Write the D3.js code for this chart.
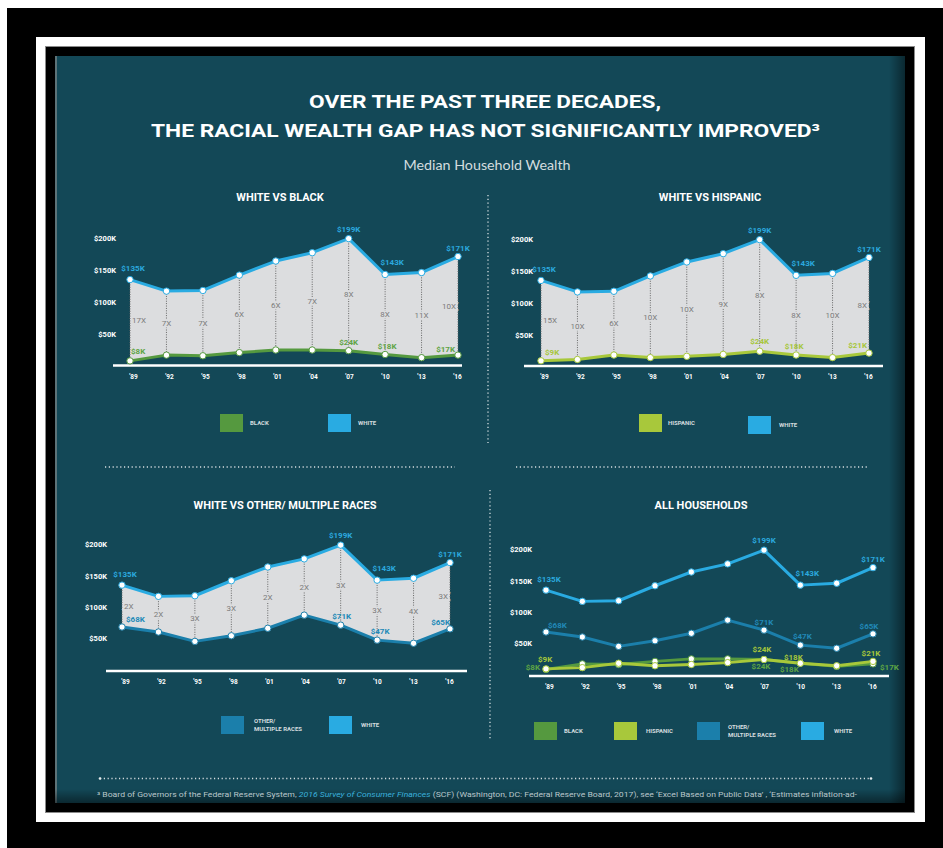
<!DOCTYPE html>
<html>
<head>
<meta charset="utf-8">
<script src="https://cdn.jsdelivr.net/npm/d3@7"></script>
<style>
  html, body { margin: 0; padding: 0; background: #000; }
  svg { display: block; }
</style>
</head>
<body>
<svg id="chart" width="943" height="848"></svg>
<script>
// Median household wealth, thousands of 2016 dollars (SCF survey years)
const years    = [1989, 1992, 1995, 1998, 2001, 2004, 2007, 2010, 2013, 2016];
const white    = [135, 117, 118, 142, 164, 177, 199, 143, 146, 171];
const black    = [8, 17, 16, 21, 25, 25, 24, 18, 13, 17];
const hispanic = [9, 11, 18, 14, 16, 19, 24, 18, 14, 21];
const other    = [68, 60, 45, 54, 66, 87, 71, 47, 42, 65];

// Years whose values are printed next to the points
const labelYears = [1989, 2007, 2010, 2016];
const yTicks = [50, 100, 150, 200];

// How many times larger white wealth is, per survey year
const blackGap    = ["17X", "7X", "7X", "6X", "6X", "7X", "8X", "8X", "11X", "10X"];
const hispanicGap = ["15X", "10X", "6X", "10X", "10X", "9X", "8X", "8X", "10X", "8X"];
const otherGap    = ["2X", "2X", "3X", "3X", "2X", "2X", "3X", "3X", "4X", "3X"];

const rows = years.map((year, i) => ({
  year, white: white[i], black: black[i], hispanic: hispanic[i], other: other[i]
}));

const FONT = "Roboto, 'Liberation Sans', Arial, sans-serif";
const TEAL = "#134857";
const AREA = "#dcdddf";
const series = {
  white:    { color: "#29abe2", text: "#2ba9df" },
  black:    { color: "#55993f", text: "#5ea444" },
  hispanic: { color: "#a8c83b", text: "#a6c63b" },
  other:    { color: "#1b7fab", text: "#2189b7" }
};

const svg = d3.select("#chart").attr("font-family", FONT);
const W = 943, H = 848;

// ---------- frame ----------
const defs = svg.append("defs");
defs.append("clipPath").attr("id", "panelClip")
  .append("rect").attr("x", 55).attr("y", 56).attr("width", 850).attr("height", 747);
const gr = defs.append("linearGradient").attr("id", "shadeR").attr("x1", 0).attr("x2", 1).attr("y1", 0).attr("y2", 0);
gr.append("stop").attr("offset", 0).attr("stop-color", "#000").attr("stop-opacity", 0);
gr.append("stop").attr("offset", 1).attr("stop-color", "#000").attr("stop-opacity", 0.45);
const gb = defs.append("linearGradient").attr("id", "shadeB").attr("x1", 0).attr("x2", 0).attr("y1", 0).attr("y2", 1);
gb.append("stop").attr("offset", 0).attr("stop-color", "#000").attr("stop-opacity", 0);
gb.append("stop").attr("offset", 1).attr("stop-color", "#000").attr("stop-opacity", 0.45);

svg.append("rect").attr("width", W).attr("height", H).attr("fill", "#000");
svg.append("rect").attr("x", 0).attr("y", 0).attr("width", W).attr("height", 8).attr("fill", "#fff");
svg.append("rect").attr("x", 0).attr("y", 0).attr("width", 7).attr("height", H).attr("fill", "#fff");
svg.append("rect").attr("x", 36).attr("y", 37).attr("width", 889).attr("height", 785).attr("fill", "#fff");
svg.append("rect").attr("x", 45.5).attr("y", 46.5).attr("width", 869).attr("height", 766)
  .attr("fill", "#000").attr("stroke", "#8a8a8a").attr("stroke-width", 1);
svg.append("rect").attr("x", 55).attr("y", 56).attr("width", 850).attr("height", 747).attr("fill", TEAL);
svg.append("rect").attr("x", 55).attr("y", 56).attr("width", 2).attr("height", 747).attr("fill", "#5d7378");
svg.append("rect").attr("x", 889).attr("y", 56).attr("width", 16).attr("height", 747).attr("fill", "url(#shadeR)");
svg.append("rect").attr("x", 55).attr("y", 789).attr("width", 850).attr("height", 14).attr("fill", "url(#shadeB)");

// ---------- headings ----------
svg.append("text").attr("x", 485).attr("y", 108).attr("text-anchor", "middle")
  .attr("fill", "#fff").attr("font-size", 18).attr("font-weight", 700)
  .attr("textLength", 352).attr("lengthAdjust", "spacingAndGlyphs")
  .text("OVER THE PAST THREE DECADES,");
svg.append("text").attr("x", 485.5).attr("y", 136.5).attr("text-anchor", "middle")
  .attr("fill", "#fff").attr("font-size", 18).attr("font-weight", 700)
  .attr("textLength", 669).attr("lengthAdjust", "spacingAndGlyphs")
  .text("THE RACIAL WEALTH GAP HAS NOT SIGNIFICANTLY IMPROVED\u00B3");
svg.append("text").attr("x", 487).attr("y", 169.5).attr("text-anchor", "middle")
  .attr("fill", "#d3dcdf").attr("font-size", 12.5).attr("font-weight", 400)
  .attr("font-family", "Lato, 'Open Sans', sans-serif")
  .attr("textLength", 167).attr("lengthAdjust", "spacingAndGlyphs")
  .text("Median Household Wealth");

// ---------- dotted separators ----------
function dotted(x1, y1, x2, y2, endDots) {
  svg.append("line").attr("x1", x1).attr("y1", y1).attr("x2", x2).attr("y2", y2)
    .attr("stroke", "#d5dde0").attr("stroke-width", 1.3).attr("stroke-dasharray", "1.2,2.6");
  if (endDots) {
    [[x1, y1], [x2, y2]].forEach(p => svg.append("circle").attr("cx", p[0]).attr("cy", p[1])
      .attr("r", 1.3).attr("fill", "#e6ecee"));
  }
}
dotted(488, 195, 488, 443);
dotted(490, 490, 490, 740);
dotted(105, 467, 455, 467);
dotted(516, 467, 869, 467);
dotted(100, 778.5, 871, 778.5, true);

// ---------- chart panels ----------
function drawChart(c) {
  const g = svg.append("g");
  const x = d3.scalePoint().domain(years).range(c.xRange);
  const y = d3.scaleLinear().domain([0, 200]).range(c.yRange);

  g.append("text").attr("x", c.titleX).attr("y", 201).attr("transform", `translate(0,${c.titleDy})`)
    .attr("text-anchor", "middle").attr("fill", "#fff")
    .attr("font-size", 11).attr("font-weight", 700).text(c.title);

  // value axis labels
  g.append("g").attr("transform", `translate(${c.yAxisX},0)`)
    .call(d3.axisLeft(y).tickValues(yTicks).tickSize(0).tickPadding(0).tickFormat(d => `$${d}K`))
    .call(a => a.select(".domain").remove())
    .attr("font-family", FONT).attr("font-size", 7.5).attr("font-weight", 700)
    .selectAll("text").attr("fill", "#fff");

  // baseline
  g.append("line").attr("x1", c.base[0]).attr("x2", c.base[1])
    .attr("y1", c.baseY).attr("y2", c.baseY).attr("stroke", "#fff").attr("stroke-width", 2.4);

  // year labels
  const xl = d3.scalePoint().domain(years).range([c.xRange[0] + 3, c.xRange[1] - 1]);
  g.append("g").attr("transform", `translate(0,${c.baseY})`)
    .call(d3.axisBottom(xl).tickSize(0).tickPadding(8.5).tickFormat(d => "'" + String(d).slice(2)))
    .call(a => a.select(".domain").remove())
    .attr("font-family", FONT).attr("font-size", 6.5).attr("font-weight", 700)
    .selectAll("text").attr("fill", "#fff");

  // gap band between two series
  if (c.band) {
    const [up, lo, gap] = c.band;
    g.append("path").datum(rows)
      .attr("d", d3.area().x(d => x(d.year)).y0(d => y(d[lo])).y1(d => y(d[up])))
      .attr("fill", AREA);
    g.selectAll(null).data(rows).join("line")
      .attr("x1", d => x(d.year)).attr("x2", d => x(d.year))
      .attr("y1", d => y(d[up])).attr("y2", d => y(d[lo]))
      .attr("stroke", "#666").attr("stroke-width", 1).attr("stroke-dasharray", "1,1.4");
    const last = rows.length - 1;
    g.selectAll(null).data(rows).join("text")
      .attr("x", (d, i) => x(d.year) + (i === 0 ? 2 : i === last ? -2 : 0))
      .attr("y", d => (y(d[up]) + y(d[lo])) / 2).attr("dy", "0.35em")
      .attr("text-anchor", (d, i) => i === 0 ? "start" : i === last ? "end" : "middle")
      .attr("font-size", 8).attr("fill", "#7b7b7b")
      .attr("stroke", AREA).attr("stroke-width", 3).attr("paint-order", "stroke")
      .text((d, i) => gap[i]);
  }

  // lines
  c.lines.forEach(key => {
    g.append("path").datum(rows)
      .attr("d", d3.line().x(d => x(d.year)).y(d => y(d[key])))
      .attr("fill", "none").attr("stroke", series[key].color)
      .attr("stroke-width", 3).attr("stroke-linejoin", "round");
  });
  // points
  c.lines.forEach(key => {
    g.selectAll(null).data(rows).join("circle")
      .attr("cx", d => x(d.year)).attr("cy", d => y(d[key])).attr("r", 3.2)
      .attr("fill", "#fff").attr("stroke", series[key].color).attr("stroke-width", 1);
  });

  // printed values
  c.labels.forEach(L => {
    labelYears.forEach((yr, j) => {
      const d = rows.find(r => r.year === yr);
      g.append("text")
        .attr("x", x(yr) + L.dx[j]).attr("y", y(d[L.key]) + L.dy[j]).attr("dy", "0.35em")
        .attr("text-anchor", L.anchor[j])
        .attr("font-size", 8).attr("font-weight", 700).attr("fill", series[L.key].text)
        .text(`$${d[L.key]}K`);
    });
  });

  // legend
  c.legend.forEach(item => {
    g.append("rect").attr("x", item.x).attr("y", item.y).attr("width", 23).attr("height", 18)
      .attr("fill", series[item.key].color);
    const cy = item.y + 9;
    const n = item.lines.length;
    item.lines.forEach((t, k) => {
      g.append("text").attr("x", item.x + 23 + item.gap)
        .attr("y", cy + (k - (n - 1) / 2) * 8.4).attr("dy", "0.35em")
        .attr("font-size", 6).attr("font-weight", 700).attr("fill", "#d3dcdf").text(t);
    });
  });
}

const upperLbl = { anchor: ["middle", "middle", "middle", "middle"], dx: [3, 0, 7, 0], dy: [-11, -9.5, -12, -8] };

drawChart({
  title: "WHITE VS BLACK", titleX: 280, titleDy: 0,
  xRange: [130, 458], yRange: [366, 238], yAxisX: 116,
  base: [113, 462], baseY: 365.5,
  band: ["white", "black", blackGap],
  lines: ["black", "white"],
  labels: [
    Object.assign({ key: "white" }, upperLbl),
    { key: "black", anchor: ["start", "middle", "middle", "end"], dx: [1, 0, 2, -3], dy: [-10, -8.6, -8, -6] }
  ],
  legend: [
    { key: "black", lines: ["BLACK"], x: 220, y: 414, gap: 7 },
    { key: "white", lines: ["WHITE"], x: 328, y: 414, gap: 7 }
  ]
});

drawChart({
  title: "WHITE VS HISPANIC", titleX: 710, titleDy: 0,
  xRange: [541, 869], yRange: [366.5, 239], yAxisX: 533,
  base: [524, 883], baseY: 366,
  band: ["white", "hispanic", hispanicGap],
  lines: ["hispanic", "white"],
  labels: [
    Object.assign({ key: "white" }, upperLbl),
    { key: "hispanic", anchor: ["start", "middle", "middle", "end"], dx: [4, 0, -2, -2], dy: [-9, -10, -9, -8] }
  ],
  legend: [
    { key: "hispanic", lines: ["HISPANIC"], x: 639, y: 414, gap: 6 },
    { key: "white", lines: ["WHITE"], x: 748, y: 416, gap: 8 }
  ]
});

drawChart({
  title: "WHITE VS OTHER/ MULTIPLE RACES", titleX: 285, titleDy: 308,
  xRange: [122, 450], yRange: [669.5, 544.5], yAxisX: 107,
  base: [106, 467], baseY: 671,
  band: ["white", "other", otherGap],
  lines: ["other", "white"],
  labels: [
    Object.assign({ key: "white" }, upperLbl),
    { key: "other", anchor: ["start", "middle", "middle", "end"], dx: [4, 1, 3, 0], dy: [-7.5, -8.5, -9, -7] }
  ],
  legend: [
    { key: "other", lines: ["OTHER/", "MULTIPLE RACES"], x: 221, y: 716, gap: 10 },
    { key: "white", lines: ["WHITE"], x: 329, y: 716, gap: 9 }
  ]
});

drawChart({
  title: "ALL HOUSEHOLDS", titleX: 701, titleDy: 308,
  xRange: [546, 873], yRange: [674.5, 549.5], yAxisX: 532,
  base: [529, 889], baseY: 676,
  band: null,
  lines: ["white", "other", "black", "hispanic"],
  labels: [
    Object.assign({ key: "white" }, upperLbl),
    { key: "other", anchor: ["start", "middle", "middle", "middle"], dx: [2, 0, 2, -4], dy: [-7, -7.5, -9, -8] },
    { key: "hispanic", anchor: ["start", "middle", "middle", "middle"], dx: [-8, -2, -7, -2], dy: [-9.5, -10, -6.5, -8.6] },
    { key: "black", anchor: ["end", "middle", "middle", "start"], dx: [-6, -3, -11, 7], dy: [-2, 7, 6, 3] }
  ],
  legend: [
    { key: "black", lines: ["BLACK"], x: 534, y: 722, gap: 7 },
    { key: "hispanic", lines: ["HISPANIC"], x: 614, y: 722, gap: 9 },
    { key: "other", lines: ["OTHER/", "MULTIPLE RACES"], x: 697, y: 722, gap: 8 },
    { key: "white", lines: ["WHITE"], x: 801, y: 722, gap: 10 }
  ]
});

// ---------- source note ----------
const foot = svg.append("g").attr("clip-path", "url(#panelClip)").attr("font-size", 7.5).attr("fill", "#b9c6ca");
const ft = foot.append("text").attr("x", 97).attr("y", 797)
  .attr("textLength", 760).attr("lengthAdjust", "spacingAndGlyphs");
ft.append("tspan").text("\u00B3 Board of Governors of the Federal Reserve System, ");
ft.append("tspan").attr("font-style", "italic").attr("fill", "#3bb0dc").text("2016 Survey of Consumer Finances");
ft.append("tspan").text(" (SCF) (Washington, DC: Federal Reserve Board, 2017), see \u2018Excel Based on Public Data\u2019 , \u2018Estimates inflation-ad-");
foot.append("text").attr("x", 97).attr("y", 807.5).attr("fill-opacity", 0.7).text("justed to 2016 dollars\u2019");
</script>
</body>
</html>
